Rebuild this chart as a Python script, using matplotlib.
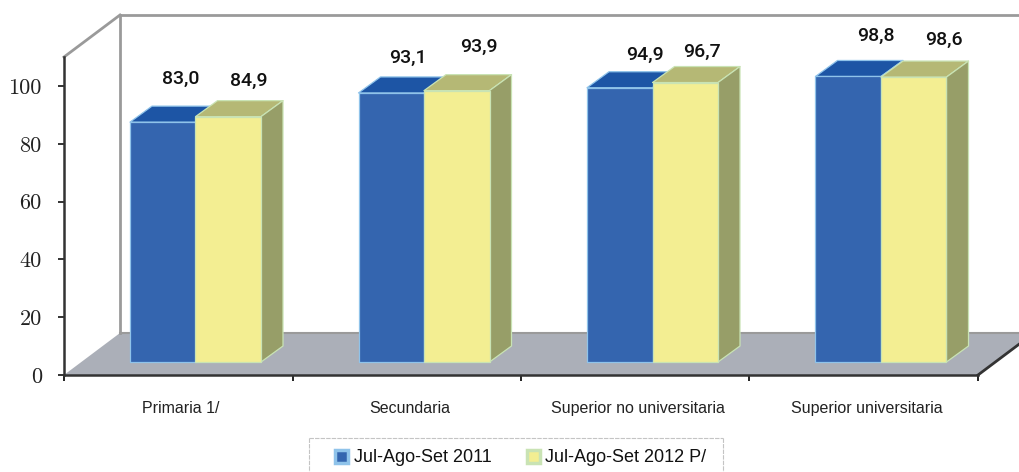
"""Tasa por nivel educativo, barras con falso 3D dibujadas a mano en matplotlib."""

import matplotlib
matplotlib.use("Agg")
import matplotlib.pyplot as plt
from matplotlib.patches import Polygon, Rectangle

CATEGORIES = ["Primaria 1/", "Secundaria", "Superior no universitaria", "Superior universitaria"]
SERIES_2011 = [83.0, 93.1, 94.9, 98.8]
SERIES_2012 = [84.9, 93.9, 96.7, 98.6]
SERIES_NAMES = ["Jul-Ago-Set 2011", "Jul-Ago-Set 2012 P/"]
Y_TICKS = [0, 20, 40, 60, 80, 100]

# layout, in pixels of the 1020x472 picture
W, H = 1020, 472
X0, X1 = 64, 978
Y0, Y100 = 375, 86
PX_X = (X1 - X0) / len(CATEGORIES)
PX_Y = (Y0 - Y100) / 100
YMAX = (Y0 - 57) / PX_Y

# wall and floor depth, bar depth, bar placement (data units)
DX, DY = 56 / PX_X, 42 / PX_Y
BAR_DX, BAR_DY = 22 / PX_X, 16 / PX_Y
BAR_W = 65.5 / PX_X
BAR_X = 66 / PX_X
BAR_BASE = 13 / PX_Y

# how far each value label sits from its bar top (points)
LABEL_OFF_2011 = [(13, 31), (12, 25.5), (18, 24), (20, 29)]
LABEL_OFF_2012 = [(15, 25.5), (16, 31.5), (12, 22), (22, 27)]

BLUE, BLUE_TOP, BLUE_EDGE = "#3465AF", "#1D55A5", "#8FC3EA"
YEL, YEL_TOP, YEL_SIDE, YEL_EDGE = "#F3EE92", "#B5B875", "#979E68", "#C9E3B4"


def draw_bar(ax, x, val, front, top, side, edge):
    b, t = BAR_BASE, BAR_BASE + val
    kw = dict(clip_on=False, edgecolor=edge, linewidth=0.9, joinstyle="round", zorder=3)
    ax.add_patch(Polygon([(x, t), (x + BAR_W, t), (x + BAR_W + BAR_DX, t + BAR_DY),
                          (x + BAR_DX, t + BAR_DY)], facecolor=top, **kw))
    ax.add_patch(Polygon([(x + BAR_W, b), (x + BAR_W + BAR_DX, b + BAR_DY),
                          (x + BAR_W + BAR_DX, t + BAR_DY), (x + BAR_W, t)],
                         facecolor=side, **kw))
    ax.add_patch(Rectangle((x, b), BAR_W, val, facecolor=front, **kw))


def main():
    plt.rcParams["font.family"] = ["Liberation Sans", "DejaVu Sans"]
    fig = plt.figure(figsize=(W / 100, H / 100), dpi=100)
    ax = fig.add_axes([X0 / W, 1 - Y0 / H, (X1 - X0) / W, (Y0 - 57) / H])
    ax.set_xlim(0, len(CATEGORIES))
    ax.set_ylim(0, YMAX)
    ax.patch.set_visible(False)
    n = len(CATEGORIES)

    # floor and back walls
    ax.add_patch(Polygon([(0, 0), (DX, DY), (n + DX, DY), (n, 0)], facecolor="#ABAFB8",
                         edgecolor="none", clip_on=False, zorder=1))
    wall = dict(color="#9A9A9A", linewidth=2, clip_on=False, zorder=2)
    ax.plot([DX, DX], [DY, YMAX + DY], **wall)
    ax.plot([DX, n + DX], [YMAX + DY, YMAX + DY], **wall)
    ax.plot([0, DX], [YMAX, YMAX + DY], **wall)
    ax.plot([DX, n + DX], [DY, DY], color="#9A9A9A", linewidth=1.5, clip_on=False, zorder=2)
    ax.plot([n, n + DX], [0, DY], color="#333333", linewidth=2, clip_on=False, zorder=2)

    for i in range(n):
        draw_bar(ax, i + BAR_X, SERIES_2011[i], BLUE, BLUE_TOP, BLUE, BLUE_EDGE)
        draw_bar(ax, i + BAR_X + BAR_W, SERIES_2012[i], YEL, YEL_TOP, YEL_SIDE, YEL_EDGE)

    # value labels, decimal comma
    for i in range(n):
        for vals, offs, x in ((SERIES_2011, LABEL_OFF_2011, BAR_X), (SERIES_2012, LABEL_OFF_2012, BAR_X + BAR_W)):
            ax.annotate(f"{vals[i]:.1f}".replace(".", ","),
                        (i + x + BAR_W / 2, BAR_BASE + vals[i]),
                        xytext=offs[i], textcoords="offset points", ha="center", va="center",
                        fontsize=14, fontweight="medium", family="Roboto", color="#111111")

    # axes
    for s in ("top", "right"):
        ax.spines[s].set_visible(False)
    for s in ("left", "bottom"):
        ax.spines[s].set_color("#333333")
        ax.spines[s].set_linewidth(1.8)
    ax.set_yticks(Y_TICKS)
    ax.set_yticklabels([str(t) for t in Y_TICKS], family="cmr10", fontsize=16, color="#222222")
    ax.tick_params(axis="y", length=4.5, width=1.4, color="#333333", pad=11.5)
    ax.set_xticks(range(n + 1))
    ax.set_xticklabels([])
    ax.tick_params(axis="x", which="major", length=4.5, width=1.4, color="#222222")
    ax.set_xticks([i + 0.513 for i in range(n)], minor=True)
    ax.set_xticklabels(CATEGORIES, minor=True, fontsize=11.5, color="#222222")
    ax.tick_params(axis="x", which="minor", length=0, pad=19)

    # legend; its dashed box runs off the bottom of the picture
    handles = [Rectangle((0, 0), 1, 1, facecolor=BLUE, edgecolor=BLUE_EDGE, linewidth=2.5),
               Rectangle((0, 0), 1, 1, facecolor=YEL, edgecolor=YEL_EDGE, linewidth=2.5)]
    fig.legend(handles, SERIES_NAMES, loc="center", bbox_to_anchor=(521 / W, 1 - 458 / H),
               ncol=2, frameon=False, fontsize=13, handlelength=0.7, handleheight=0.7,
               handletextpad=0.3, columnspacing=2.0, labelcolor="#111111")
    dash = dict(color="#C4C4C4", linewidth=0.8, linestyle=(0, (4, 1)))
    fig.add_artist(plt.Line2D([309 / W, 723 / W], [1 - 438 / H, 1 - 438 / H], **dash))
    fig.add_artist(plt.Line2D([309 / W, 309 / W], [1 - 438 / H, 0], **dash))
    fig.add_artist(plt.Line2D([723 / W, 723 / W], [1 - 438 / H, 0], **dash))

    fig.savefig("out.png", dpi=100)


if __name__ == "__main__":
    main()
